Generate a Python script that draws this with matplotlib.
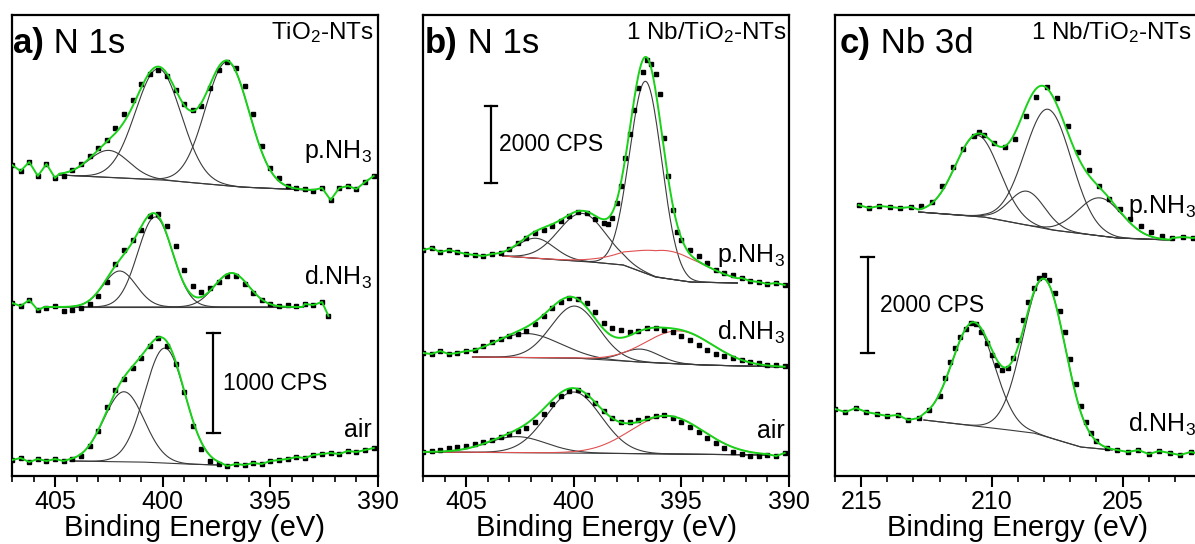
import numpy as np
import matplotlib
matplotlib.use('Agg')
import matplotlib.pyplot as plt
from matplotlib.ticker import MultipleLocator

plt.rcParams['font.family'] = ['Liberation Sans', 'DejaVu Sans']
plt.rcParams['mathtext.default'] = 'regular'

# ---- data (intensity in arbitrary units, spectra already stacked) ----
# common N 1s energy grid (eV)
n1s_E = [407.0, 406.6, 406.2, 405.8, 405.4, 405.0, 404.6, 404.2, 403.8, 403.4,
         403.0, 402.6, 402.2, 401.8, 401.4, 401.0, 400.6, 400.2, 399.8, 399.4,
         399.0, 398.6, 398.2, 397.8, 397.4, 397.0, 396.6, 396.2, 395.8, 395.4,
         395.0, 394.6, 394.2, 393.8, 393.4, 393.0, 392.6, 392.2, 391.8, 391.4,
         391.0, 390.6, 390.2]

# a) TiO2-NTs, N 1s
a_p_I = [311, 305, 314, 300, 312, 298, 300, 306, 312, 320,
         328, 336, 348, 362, 376, 392, 402, 406, 400, 386,
         372, 366, 370, 388, 406, 414, 408, 390, 362, 330,
         308, 298, 290, 288, 287, 285, 288, 276, 288, 290,
         287, 294, 300]
a_p_bgE = [404.8, 400.0, 396.4, 394.4, 393.0]
a_p_bgI = [301, 296, 289, 287, 286]
a_p_peaks = [(402.5, 27, 2.2), (400.2, 111, 2.5), (397.0, 124, 2.4)]

a_d_E = [407.0, 406.6, 406.2, 405.8, 405.4, 405.0, 404.6, 404.2, 403.8, 403.4,
         403.0, 402.6, 402.2, 401.8, 401.4, 401.0, 400.6, 400.2, 399.8, 399.4,
         399.0, 398.6, 398.2, 397.8, 397.4, 397.0, 396.6, 396.2, 395.8, 395.4,
         395.0, 394.6, 394.2, 393.8, 393.4, 393.0, 392.6, 392.3]
a_d_I = [173, 170, 176, 166, 168, 170, 165, 166, 168, 172,
         180, 194, 212, 226, 236, 246, 260, 262, 250, 230,
         206, 190, 184, 188, 194, 200, 200, 192, 183, 176,
         172, 170, 171, 170, 172, 171, 174, 160]
a_d_bgE = [405.5, 400.0, 393.5]
a_d_bgI = [169, 169, 169]
a_d_peaks = [(402.0, 36, 1.8), (400.35, 90, 1.9), (396.8, 34, 1.9)]

a_air_I = [16, 18, 14, 17, 15, 17, 15, 17, 20, 30,
           45, 69, 86, 97, 108, 118, 130, 138, 130, 112,
           84, 50, 27, 15, 12, 10, 12, 11, 13, 12,
           15, 16, 17, 19, 18, 21, 22, 23, 22, 25,
           24, 26, 28]
a_air_bgE = [404.3, 401.0, 399.0, 397.4]
a_air_bgI = [15, 14, 12, 11]
a_air_peaks = [(401.8, 70, 2.2), (399.9, 115, 2.2)]

# b) 1 Nb/TiO2-NTs, N 1s
b_p_E = [407.0, 406.6, 406.2, 405.8, 405.4, 405.0, 404.6, 404.2, 403.8, 403.4,
         403.0, 402.6, 402.2, 401.8, 401.4, 401.0, 400.6, 400.2, 399.8, 399.4,
         399.0, 398.6, 398.4, 398.2, 398.0, 397.8, 397.6, 397.4, 397.2, 397.0,
         396.8, 396.6, 396.4, 396.2, 396.0, 395.8, 395.6, 395.4, 395.2, 395.0,
         394.6, 394.2, 393.8, 393.4, 393.0, 392.6, 392.2, 391.8, 391.4, 391.0,
         390.6, 390.2]
b_p_I = [226, 228, 224, 226, 224, 222, 221, 220, 222, 223,
         227, 233, 238, 243, 246, 250, 255, 260, 264, 263,
         257, 253, 252, 258, 273, 290, 318, 342, 366, 388,
         404, 416, 412, 402, 382, 338, 300, 266, 244, 236,
         226, 220, 213, 206, 203, 201, 198, 195, 194, 192,
         193, 191]
b_p_bgE = [403.3, 399.2, 397.7, 396.2, 394.6, 392.4]
b_p_bgI = [220, 214, 211, 199, 194, 193]
b_p_peaks = [(401.75, 20, 2.0), (399.6, 48, 2.6), (396.65, 192, 1.75)]
b_p_red = [(395.6, 28, 4.0)]

b_d_I = [123, 122, 125, 122, 123, 125, 126, 130, 134, 137,
         140, 142, 145, 152, 160, 168, 174, 178, 177, 173,
         164, 153, 148, 146, 144, 145, 148, 148, 146, 144,
         140, 136, 131, 126, 122, 120, 118, 116, 114, 113,
         111, 111, 110]
b_d_bgE = [404.7, 400.0, 397.0, 394.0, 390.2]
b_d_bgI = [119, 118, 114, 111, 109]
b_d_peaks = [(402.2, 24, 3.6), (399.95, 52, 2.6), (396.9, 13, 2.0)]
b_d_red = [(395.1, 33, 3.7)]

b_air_I = [24, 25, 26, 28, 29, 30, 32, 34, 36, 39,
           42, 45, 48, 54, 62, 72, 80, 85, 86, 81,
           73, 65, 58, 54, 54, 56, 58, 60, 61, 58,
           54, 49, 44, 38, 33, 28, 24, 22, 20, 20,
           21, 20, 23]
b_air_bgE = [406.9, 400.0, 391.0]
b_air_bgI = [24, 23, 21]
b_air_peaks = [(402.65, 16, 3.2), (400.0, 61, 3.0)]
b_air_red = [(395.67, 38, 4.0)]

# c) 1 Nb/TiO2-NTs, Nb 3d
c_p_E = [215.1, 214.7, 214.3, 213.9, 213.5, 213.1, 212.7, 212.3, 211.9, 211.5,
         211.1, 210.7, 210.5, 210.3, 209.9, 209.5, 209.1, 208.7, 208.3, 207.9,
         207.5, 207.1, 206.7, 206.3, 205.9, 205.5, 205.1, 204.7, 204.3, 203.9,
         203.5, 203.1, 202.7, 202.3, 201.9]
c_p_I = [271, 268, 270, 269, 268, 269, 270, 274, 290, 309,
         327, 340, 344, 341, 333, 329, 337, 360, 379, 389,
         378, 350, 324, 306, 290, 277, 267, 257, 250, 244,
         240, 238, 239, 238, 240]
c_p_bgE = [212.8, 210.3, 207.7, 205.2, 203.2]
c_p_bgI = [264, 259, 246, 238, 236]
c_p_peaks = [(210.55, 81, 2.0), (208.65, 34, 1.6), (207.85, 120, 2.1), (205.85, 38, 2.0)]

c_d_E = [216.0, 215.6, 215.2, 214.8, 214.4, 214.0, 213.6, 213.2, 212.8, 212.4,
         212.0, 211.8, 211.6, 211.4, 211.2, 211.0, 210.8, 210.6, 210.4, 210.2,
         210.0, 209.8, 209.6, 209.4, 209.2, 209.0, 208.8, 208.6, 208.4, 208.2,
         208.0, 207.8, 207.6, 207.4, 207.2, 207.0, 206.8, 206.6, 206.4, 206.2,
         206.0, 205.6, 205.2, 204.8, 204.4, 204.0, 203.6, 203.2, 202.8, 202.4,
         202.0]
c_d_I = [67, 64, 68, 64, 62, 60, 61, 56, 58, 66,
         80, 98, 114, 128, 139, 147, 153, 152, 144, 133,
         121, 111, 106, 108, 118, 136, 156, 174, 188, 198,
         201, 196, 183, 165, 144, 117, 92, 70, 54, 43,
         35, 28, 26, 24, 26, 22, 25, 23, 21, 24,
         22]
c_d_bgE = [212.6, 210.3, 208.4, 206.6, 205.4]
c_d_bgI = [56, 49, 43, 29, 26]
c_d_peaks = [(210.7, 103, 1.9), (208.0, 157, 1.9)]

GREEN = '#19d219'
GREY = '#3a3a3a'
RED = '#e05050'


def gauss(x, centre, amp, fwhm):
    return amp * np.exp(-4 * np.log(2) * ((x - centre) / fwhm) ** 2)


def draw_spec(ax, E, I, bgE, bgI, peaks, red=()):
    E = np.asarray(E, float)
    I = np.asarray(I, float)
    hi, lo = bgE[0], bgE[-1]
    x = np.linspace(hi, lo, 400)
    bg = np.interp(x, bgE[::-1], bgI[::-1])
    env = bg.copy()
    ax.plot(x, bg, color=GREY, lw=0.8, zorder=2)
    for c, a, w in peaks:
        g = gauss(x, c, a, w)
        env += g
        ax.plot(x, bg + g, color=GREY, lw=0.8, zorder=2)
    for c, a, w in red:
        g = gauss(x, c, a, w)
        env += g
        ax.plot(x, bg + g, color=RED, lw=0.8, zorder=2)
    ax.plot(E, I, 's', ms=3.5, color='k', mec='k', zorder=3)
    left = E > hi
    right = E < lo
    gx = np.concatenate([E[left], x, E[right]])
    gy = np.concatenate([I[left], env, I[right]])
    ax.plot(gx, gy, color=GREEN, lw=1.4, zorder=4)


def scale_bar(ax, e, lo, hi, text, e_text, cap):
    ax.plot([e, e], [lo, hi], color='k', lw=1.6)
    ax.plot([e - cap, e + cap], [lo, lo], color='k', lw=1.6)
    ax.plot([e - cap, e + cap], [hi, hi], color='k', lw=1.6)
    ax.text(e_text, (lo + hi) / 2, text, fontsize=16.5, ha='left', va='center')


fig = plt.figure(figsize=(11.95, 5.44), dpi=100)
W, H = 1195.0, 544.0
axa = fig.add_axes([12 / W, 68 / H, 366 / W, 461 / H])
axb = fig.add_axes([423 / W, 68 / H, 366 / W, 461 / H])
axc = fig.add_axes([835 / W, 68 / H, 366 / W, 461 / H])

for ax in (axa, axb, axc):
    ax.set_ylim(0, 461)
    ax.set_yticks([])
    for s in ax.spines.values():
        s.set_linewidth(1.6)
    ax.tick_params(axis='x', which='major', direction='out', length=8, width=1.5,
                   labelsize=18, pad=2)
    ax.tick_params(axis='x', which='minor', direction='out', length=4.5, width=1.2)
    ax.xaxis.set_major_locator(MultipleLocator(5))
    ax.xaxis.set_minor_locator(MultipleLocator(1))
    ax.set_xlabel('Binding Energy (eV)', fontsize=21, labelpad=0)

axa.set_xlim(407, 390)
axb.set_xlim(407, 390)
axc.set_xlim(216, 202)

# panel a
draw_spec(axa, n1s_E, a_p_I, a_p_bgE, a_p_bgI, a_p_peaks)
draw_spec(axa, a_d_E, a_d_I, a_d_bgE, a_d_bgI, a_d_peaks)
draw_spec(axa, n1s_E, a_air_I, a_air_bgE, a_air_bgI, a_air_peaks)
scale_bar(axa, 397.66, 43, 143, '1000 CPS', 397.2, 0.3)

# panel b
draw_spec(axb, b_p_E, b_p_I, b_p_bgE, b_p_bgI, b_p_peaks, b_p_red)
draw_spec(axb, n1s_E, b_d_I, b_d_bgE, b_d_bgI, b_d_peaks, b_d_red)
draw_spec(axb, n1s_E, b_air_I, b_air_bgE, b_air_bgI, b_air_peaks, b_air_red)
scale_bar(axb, 403.84, 293, 370, '2000 CPS', 403.47, 0.3)

# panel c
draw_spec(axc, c_p_E, c_p_I, c_p_bgE, c_p_bgI, c_p_peaks)
draw_spec(axc, c_d_E, c_d_I, c_d_bgE, c_d_bgI, c_d_peaks)
scale_bar(axc, 214.74, 123, 219, '2000 CPS', 214.28, 0.25)

# titles and labels
titles = [(axa, 'a)', ' N 1s', 0.004), (axb, 'b)', ' N 1s', 0.006), (axc, 'c)', ' Nb 3d', 0.014)]
for ax, bold, rest, x0 in titles:
    t = ax.text(x0, 423, bold, transform=ax.get_yaxis_transform(), fontsize=25,
                fontweight='bold', ha='left', va='baseline')
    ax.annotate(rest, xycoords=t, xy=(1, 0), va='bottom', ha='left', fontsize=25)

yt = lambda ax: ax.get_yaxis_transform()
axa.text(0.988, 437, 'TiO$_2$-NTs', transform=yt(axa), fontsize=17.5, ha='right', va='baseline')
axb.text(0.994, 437, '1 Nb/TiO$_2$-NTs', transform=yt(axb), fontsize=17.5, ha='right', va='baseline')
axc.text(0.976, 437, '1 Nb/TiO$_2$-NTs', transform=yt(axc), fontsize=17.5, ha='right', va='baseline')

lab = dict(fontsize=18, va='baseline')
axa.text(0.984, 318, 'p.NH$_3$', transform=yt(axa), ha='right', **lab)
axa.text(0.984, 191, 'd.NH$_3$', transform=yt(axa), ha='right', **lab)
axa.text(0.984, 39, 'air', transform=yt(axa), ha='right', **lab)
axb.text(0.989, 214, 'p.NH$_3$', transform=yt(axb), ha='right', **lab)
axb.text(0.989, 136, 'd.NH$_3$', transform=yt(axb), ha='right', **lab)
axb.text(0.989, 38, 'air', transform=yt(axb), ha='right', **lab)
axc.text(0.80, 263, 'p.NH$_3$', transform=yt(axc), ha='left', **lab)
axc.text(0.80, 44, 'd.NH$_3$', transform=yt(axc), ha='left', **lab)

fig.savefig('out.png', dpi=100)
